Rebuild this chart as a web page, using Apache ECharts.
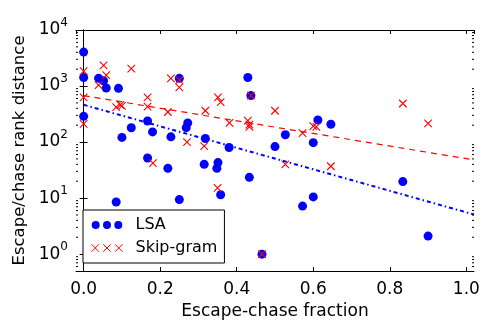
<!DOCTYPE html>
<html lang="en">
<head>
    <meta charset="UTF-8">
    <title>Escape-chase</title>
    <script src="https://cdn.jsdelivr.net/npm/echarts@6/dist/echarts.min.js"></script>
    <style>
        *{ margin:0; padding:0; }
        body,html{ width:100%; height:100%; overflow:hidden; background:#fff; }
        .box{ width:498px; height:332px; }
    </style>
</head>
<body>
<div class="box"></div>
<script>
    // values: [escape-chase fraction, rank distance]
    let lsa = [
        [0.0, 4030], [0.0, 1420], [0.0, 288], [0.039, 1370], [0.052, 1240], [0.059, 923],
        [0.091, 910], [0.1, 121], [0.085, 8.5], [0.1245, 180], [0.167, 238], [0.18, 152],
        [0.167, 52], [0.22, 34], [0.228, 124], [0.25, 1370], [0.25, 9.4], [0.268, 181],
        [0.272, 220], [0.318, 116], [0.315, 40], [0.351, 43], [0.348, 34], [0.358, 11.5],
        [0.38, 80], [0.429, 1420], [0.437, 675], [0.433, 23.5], [0.466, 1.0], [0.5, 83],
        [0.527, 135], [0.572, 7.2], [0.6, 97.5], [0.6, 10.5], [0.612, 248], [0.646, 208],
        [0.834, 19.7], [0.9, 2.1]
    ];
    let skipgram = [
        [0.0, 1840], [0.0, 630], [0.0, 211], [0.039, 1040], [0.052, 2345], [0.059, 1560],
        [0.085, 421], [0.096, 462], [0.1, 444], [0.1245, 2050], [0.167, 630], [0.167, 431],
        [0.181, 42], [0.22, 344], [0.228, 1370], [0.25, 1275], [0.25, 948], [0.27, 100],
        [0.315, 85], [0.318, 362], [0.351, 630], [0.358, 516], [0.35, 15.2], [0.381, 220],
        [0.429, 241], [0.433, 205], [0.433, 186], [0.437, 675], [0.466, 1.0], [0.5, 362],
        [0.527, 40], [0.572, 144], [0.6, 192], [0.608, 186], [0.646, 37], [0.834, 488],
        [0.9, 216]
    ];
    // fitted trend lines (end points)
    let lsaFit = [[0, 462], [1.02, 5.1]];
    let skipFit = [[0, 675], [1.02, 48]];

    let xMin = -0.02, xMax = 1.02;
    let yMin = 0.5, yMax = 10000;

    // log minor ticks 2..9 in every decade
    let minor = [];
    for (let e = -1; e <= 3; e++) {
        for (let k = 2; k <= 9; k++) {
            let v = k * Math.pow(10, e);
            if (v > yMin && v < yMax) minor.push([xMin, v]);
        }
    }

    let font = 'DejaVu Sans';
    let circles3 = 'path://M0,4A4,4 0 1,0 8,4A4,4 0 1,0 0,4ZM11.3,4A4,4 0 1,0 19.3,4A4,4 0 1,0 11.3,4ZM22.6,4A4,4 0 1,0 30.6,4A4,4 0 1,0 22.6,4Z';
    let crosses3 = 'path://M0,0L7,7M7,0L0,7M11,0L18,7M18,0L11,7M22,0L29,7M29,0L22,7';
    let cross = 'path://M0,0L10,10M10,0L0,10';

    let myChart = echarts.init(document.querySelector('.box'));

    let axisCommon = {
        axisLine: { show: true, lineStyle: { color: '#000', width: 1 } },
        axisTick: { show: true, inside: true, length: 4, lineStyle: { color: '#000' } },
        splitLine: { show: false }
    };

    let option = {
        animation: false,
        backgroundColor: '#fff',
        textStyle: { fontFamily: font },
        grid: { left: 76, right: 24, top: 30, bottom: 61, containLabel: false, outerBoundsMode: 'none' },
        legend: {
            orient: 'vertical',
            left: 83, top: 210,
            padding: [7, 7, 7, 8],
            itemGap: 7,
            borderColor: '#000', borderWidth: 1,
            backgroundColor: '#fff',
            itemWidth: 31, itemHeight: 8,
            textStyle: { fontSize: 16, color: '#000', fontFamily: font, padding: [0, 0, 0, 8] },
            data: [
                { name: 'LSA', icon: circles3, itemStyle: { color: '#0000ff' } },
                { name: 'Skip-gram', icon: crosses3,
                  itemStyle: { color: 'transparent', borderColor: '#ff0000', borderWidth: 1 } }
            ]
        },
        xAxis: [
            Object.assign({}, axisCommon, {
                type: 'value', min: xMin, max: xMax, splitNumber: 5,
                name: 'Escape-chase fraction', nameLocation: 'middle', nameGap: 26,
                nameTextStyle: { fontSize: 17, color: '#000', fontFamily: font },
                axisLabel: {
                    color: '#000', fontSize: 17, margin: 10, fontFamily: font,
                    showMinLabel: false, showMaxLabel: false,
                    formatter: v => v.toFixed(1)
                }
            }),
            Object.assign({}, axisCommon, {
                type: 'value', min: xMin, max: xMax, splitNumber: 5, position: 'top',
                axisLabel: { show: false }
            })
        ],
        yAxis: [
            Object.assign({}, axisCommon, {
                type: 'log', logBase: 10, min: yMin, max: yMax,
                name: 'Escape/chase rank distance', nameLocation: 'middle', nameGap: 39,
                nameTextStyle: { fontSize: 16.5, color: '#000', fontFamily: font },
                axisLabel: {
                    color: '#000', margin: 8, showMinLabel: false,
                    formatter: v => '{b|10}{s|' + Math.round(Math.log10(v)) + '}',
                    rich: {
                        b: { fontSize: 17, fontFamily: font, color: '#000', verticalAlign: 'middle', lineHeight: 26 },
                        s: { fontSize: 12, fontFamily: font, color: '#000', verticalAlign: 'top', lineHeight: 12 }
                    }
                }
            }),
            Object.assign({}, axisCommon, {
                type: 'log', logBase: 10, min: yMin, max: yMax, position: 'right',
                axisLabel: { show: false }
            })
        ],
        series: [
            {
                name: 'LSA', type: 'scatter', data: lsa,
                symbol: 'circle', symbolSize: 9,
                itemStyle: { color: '#0000ff', opacity: 1 },
                z: 3
            },
            {
                name: 'Skip-gram', type: 'scatter', data: skipgram,
                symbol: cross, symbolSize: 7.5,
                itemStyle: { color: 'transparent', borderColor: '#ff0000', borderWidth: 1.1, opacity: 1 },
                z: 4
            },
            {
                type: 'line', data: skipFit, symbol: 'none',
                lineStyle: { color: '#ff0000', width: 1.2, type: [6, 5] },
                z: 5
            },
            {
                type: 'line', data: lsaFit, symbol: 'none',
                lineStyle: { color: '#0000ff', width: 2, type: [4, 3, 1.5, 3] },
                z: 5
            },
            {
                // minor log ticks on both vertical sides
                type: 'custom', data: minor, silent: true, z: 6,
                renderItem: function (params, api) {
                    let v = api.value(1);
                    let l = api.coord([xMin, v]);
                    let r = api.coord([xMax, v]);
                    return {
                        type: 'group',
                        children: [
                            { type: 'line', shape: { x1: l[0], y1: l[1], x2: l[0] + 2, y2: l[1] }, style: { stroke: '#000', lineWidth: 1 } },
                            { type: 'line', shape: { x1: r[0], y1: r[1], x2: r[0] - 2, y2: r[1] }, style: { stroke: '#000', lineWidth: 1 } }
                        ]
                    };
                }
            }
        ]
    };

    myChart.setOption(option);
</script>
</body>
</html>
